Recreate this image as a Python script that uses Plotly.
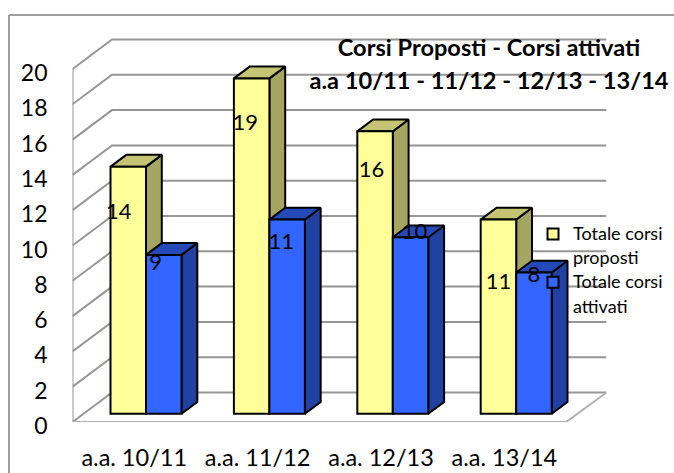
import plotly.graph_objects as go

categories = ["a.a. 10/11", "a.a. 11/12", "a.a. 12/13", "a.a. 13/14"]
proposti = [14, 19, 16, 11]
attivati = [9, 11, 10, 8]
y_ticks = list(range(0, 21, 2))

# Page geometry (pixels) and 3D projection, derived scales
W, H = 674, 473
X0_PX, X_BACK_PX = 72.5, 606.5
Y0_PX, Y_TOP_PX = 422.0, 38.0
PX_CAT, PX_UNIT = 123.4, 17.65
WALL_DX, WALL_DY = 39.5 / PX_CAT, 29.5 / PX_UNIT
BAR_D0, BAR_D1 = 0.28, 0.68
BAR_W = 35.5 / PX_CAT
SLOT_Y, SLOT_B = 0.0956 - BAR_W, 0.0956
BASE = BAR_D0 * WALL_DY
YMAX = (Y0_PX - Y_TOP_PX) / PX_UNIT
XMIN = -0.5
XMAX = XMIN + (X_BACK_PX - X0_PX) / PX_CAT
XFRONT = XMIN + 4

GRID = "#969696"
FONT = "Lato, Carlito, Calibri, sans-serif"
Y_FRONT, Y_TOP, Y_SIDE = "#FFFF99", "#C4C474", "#A5A562"
B_FRONT, B_TOP, B_SIDE = "#3366FF", "#2449B8", "#2142A2"

fig = go.Figure()

def line(xs, ys, color=GRID, width=2):
    fig.add_trace(go.Scatter(x=xs, y=ys, mode="lines", line=dict(color=color, width=width),
                             showlegend=False, hoverinfo="skip", zorder=0))

# Walls and gridlines
for v in y_ticks:
    line([XMIN, XMIN + WALL_DX, XMAX], [v, v + WALL_DY, v + WALL_DY])
line([XMIN, XMIN], [0, 20])
line([XMIN, XFRONT, XMAX], [0, 0, WALL_DY], color="#B0B0B0")

def poly(xs, ys, fill):
    fig.add_trace(go.Scatter(x=xs, y=ys, mode="lines", fill="toself", fillcolor=fill,
                             line=dict(color="black", width=2), showlegend=False,
                             hoverinfo="skip", zorder=1))

def depth_faces(values, slot, top, side):
    for i, v in enumerate(values):
        x0 = i + slot
        x1 = x0 + BAR_W
        dx = (BAR_D1 - BAR_D0) * WALL_DX
        dy = (BAR_D1 - BAR_D0) * WALL_DY
        yt = v + BASE
        poly([x1, x1 + dx, x1 + dx, x1, x1], [BASE, BASE + dy, yt + dy, yt, BASE], side)
        poly([x0, x0 + dx, x1 + dx, x1, x0], [yt, yt + dy, yt + dy, yt, yt], top)

depth_faces(proposti, SLOT_Y, Y_TOP, Y_SIDE)
depth_faces(attivati, SLOT_B, B_TOP, B_SIDE)

x_pos = list(range(len(categories)))
for values, slot, color, nm in [(proposti, SLOT_Y, Y_FRONT, "Totale corsi proposti"),
                                (attivati, SLOT_B, B_FRONT, "Totale corsi attivati")]:
    fig.add_trace(go.Bar(x=x_pos, y=values, base=BASE, offset=slot, width=BAR_W, name=nm,
                         marker=dict(color=color, line=dict(color="black", width=2)),
                         showlegend=False, zorder=2))

# Data labels: hand-placed offsets in pixels from the top-centre of each bar
lab_dx = [[-9.5, -6.5, -3.5, 0], [-8, -6, 4, 0]]
lab_dy = [[47, 46, 40, 64], [10, 24, -4, 4]]
for k, (values, slot) in enumerate([(proposti, SLOT_Y), (attivati, SLOT_B)]):
    fig.add_trace(go.Scatter(
        x=[i + slot + BAR_W / 2 + lab_dx[k][i] / PX_CAT for i in x_pos],
        y=[v + BASE - lab_dy[k][i] / PX_UNIT for i, v in enumerate(values)],
        mode="text", text=[str(v) for v in values], textposition="middle center",
        textfont=dict(family=FONT, size=22, color="black"),
        showlegend=False, hoverinfo="skip", zorder=3))

# Legend entries (one per text line so the key sits on the first line)
for name, color in [("Totale corsi", Y_FRONT), ("proposti", None),
                    ("Totale corsi ", B_FRONT), ("attivati", None)]:
    fig.add_trace(go.Scatter(
        x=[None], y=[None], mode="markers",
        name=f"<span style='font-size:18px'>{name}</span>",
        marker=dict(symbol="square", size=11 if color else 1,
                    color=color or "rgba(0,0,0,0)",
                    line=dict(color="black" if color else "rgba(0,0,0,0)", width=2))))

fig.update_layout(
    width=W, height=H, autosize=False,
    margin=dict(l=0, r=0, t=0, b=0, autoexpand=False),
    paper_bgcolor="white", plot_bgcolor="rgba(0,0,0,0)",
    barmode="overlay",
    font=dict(family=FONT, color="black"),
    title=dict(text="<b><span style='font-size:23.6px'>Corsi Proposti - Corsi attivati</span><br>"
                    "<span style='font-size:23.6px'>a.a 10/11 - 11/12 - 12/13 - 13/14</span></b>",
               font=dict(family=FONT, size=25.4, color="black"),
               x=489 / W, xanchor="center", y=1 - 56 / H, yanchor="top"),
    xaxis=dict(domain=[X0_PX / W, X_BACK_PX / W], range=[XMIN, XMAX],
               tickmode="array", tickvals=x_pos, ticktext=categories, ticks="",
               showgrid=False, zeroline=False, showline=False,
               tickfont=dict(family=FONT, size=23.5, color="black"), ticklabelstandoff=19),
    yaxis=dict(domain=[1 - Y0_PX / H, 1 - Y_TOP_PX / H], range=[0, YMAX],
               tickmode="array", tickvals=y_ticks, ticks="",
               showgrid=False, zeroline=False, showline=False,
               tickfont=dict(family=FONT, size=23, color="black"), ticklabelstandoff=24,
               ticklabelshift=4),
    legend=dict(x=(573 - 31) / W, xanchor="left", y=1 - 217 / H, yanchor="top",
                indentation=-9,
                bgcolor="rgba(0,0,0,0)", font=dict(family=FONT, size=16.2, color="black"),
                itemclick=False, itemdoubleclick=False),
    shapes=[
        dict(type="line", xref="paper", yref="paper", x0=9 / W, x1=1, y0=1 - 15 / H, y1=1 - 15 / H,
             line=dict(color="#A0A0A0", width=2)),
        dict(type="line", xref="paper", yref="paper", x0=9 / W, x1=9 / W, y0=0, y1=1 - 15 / H,
             line=dict(color="#A0A0A0", width=2)),
    ],
)

fig.write_html("out.html", config={"displayModeBar": False},
               post_script="document.body.style.margin='0';document.body.style.overflow='hidden';")
